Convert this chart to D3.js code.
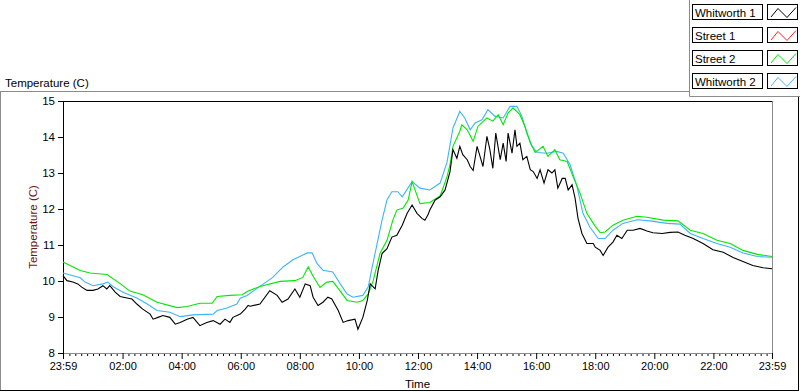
<!DOCTYPE html>
<html>
<head>
<meta charset="utf-8">
<script src="https://cdn.jsdelivr.net/npm/d3@7"></script>
<style>
  body { margin: 0; background: #fff; }
  svg { display: block; font-family: "Liberation Sans", Arial, sans-serif; }
</style>
</head>
<body>
<svg id="chart" width="800" height="392"></svg>
<script>
// readings, time of day -> temperature (C). first entry 23:59 is the evening before

var whitworth1 = [
  ["23:59",10.15],["00:07",10.01],["00:19",9.97],["00:29",9.92],["00:37",9.83],["00:48",9.74],
  ["01:00",9.74],["01:10",9.78],["01:20",9.87],["01:28",9.78],["01:34",9.87],["01:45",9.69],
  ["01:55",9.57],["02:09",9.53],["02:19",9.50],["02:29",9.36],["02:41",9.22],["02:56",9.08],
  ["03:02",8.94],["03:12",8.99],["03:22",9.04],["03:36",8.99],["03:47",8.80],["03:57",8.85],
  ["04:11",8.94],["04:23",8.99],["04:37",8.76],["04:51",8.85],["05:04",8.90],["05:18",8.80],
  ["05:28",8.94],["05:38",8.85],["05:44",8.99],["05:59",9.08],["06:09",9.22],["06:15",9.32],
  ["06:19",9.30],["06:39",9.36],["06:59",9.73],["07:14",9.60],["07:24",9.41],["07:36",9.50],
  ["07:50",9.78],["08:00",9.55],["08:11",9.92],["08:21",9.87],["08:27",9.55],["08:37",9.32],
  ["08:47",9.41],["08:57",9.55],["09:05",9.50],["09:18",9.18],["09:28",8.85],["09:38",8.90],
  ["09:52",8.94],["09:58",8.66],["10:08",8.99],["10:17",9.46],["10:23",9.92],["10:33",9.78],
  ["10:39",10.29],["10:47",10.76],["10:57",10.90],["11:07",11.22],["11:17",11.27],["11:28",11.55],
  ["11:38",11.88],["11:48",12.11],["11:58",11.88],["12:08",11.74],["12:14",11.69],["12:20",11.83],
  ["12:24",11.97],["12:35",12.25],["12:45",12.34],["12:55",12.53],["13:05",13.04],["13:11",13.65],
  ["13:19",13.41],["13:25",13.74],["13:31",13.51],["13:40",13.37],["13:46",13.18],["13:52",13.07],
  ["14:00",13.74],["14:06",13.46],["14:12",13.18],["14:20",14.02],["14:26",13.65],["14:32",13.13],
  ["14:38",14.11],["14:47",13.37],["14:53",13.83],["14:59",13.32],["15:03",14.11],["15:11",13.55],
  ["15:17",14.20],["15:21",13.74],["15:27",13.83],["15:33",13.37],["15:41",13.46],["15:48",13.09],
  ["15:54",13.04],["16:02",12.85],["16:08",13.09],["16:16",12.72],["16:24",13.09],["16:32",13.00],
  ["16:38",13.09],["16:44",12.58],["16:53",12.85],["16:59",12.85],["17:05",12.53],["17:13",12.67],
  ["17:19",12.30],["17:25",11.74],["17:33",11.32],["17:43",11.04],["17:56",11.04],["18:00",10.94],
  ["18:10",10.85],["18:16",10.71],["18:26",10.94],["18:36",11.08],["18:44",11.27],["18:54",11.18],
  ["19:05",11.41],["19:17",11.41],["19:31",11.46],["19:45",11.39],["19:57",11.34],["20:16",11.32],
  ["20:32",11.35],["20:48",11.36],["21:02",11.27],["21:19",11.18],["21:39",11.04],["21:59",10.87],
  ["22:20",10.80],["22:40",10.65],["23:00",10.54],["23:20",10.43],["23:41",10.37],["23:59",10.34]
];

var street1 = []; // no readings shown on the plot

var street2 = [
  ["23:59",10.53],["00:34",10.29],["00:54",10.22],["01:28",10.18],["01:51",9.97],["02:15",9.72],
  ["02:41",9.62],["03:10",9.41],["03:51",9.26],["04:11",9.29],["04:37",9.38],["05:02",9.38],
  ["05:12",9.57],["05:38",9.60],["06:03",9.62],["06:13",9.71],["06:39",9.85],["07:20",9.99],
  ["07:50",10.01],["08:06",10.10],["08:17",10.39],["08:27",10.13],["08:41",9.82],["08:55",9.97],
  ["09:07",9.99],["09:22",9.72],["09:36",9.46],["09:56",9.41],["10:08",9.46],["10:19",9.64],
  ["10:29",10.01],["10:43",10.77],["10:57",11.13],["11:09",11.69],["11:17",11.97],["11:30",12.03],
  ["11:40",12.25],["11:48",12.76],["12:04",12.15],["12:24",12.18],["12:45",12.36],["12:59",12.90],
  ["13:05",13.23],["13:11",13.74],["13:25",14.16],["13:29",14.34],["13:40",14.20],["13:52",13.88],
  ["14:02",14.30],["14:20",14.53],["14:32",14.44],["14:43",14.62],["14:53",14.34],["15:03",14.67],
  ["15:13",14.81],["15:27",14.62],["15:37",14.30],["15:48",13.84],["15:58",13.57],["16:14",13.74],
  ["16:24",13.46],["16:38",13.65],["16:48",13.37],["17:03",13.32],["17:15",12.90],["17:29",12.44],
  ["17:43",11.88],["17:56",11.60],["18:10",11.34],["18:20",11.36],["18:36",11.55],["18:56",11.69],
  ["19:25",11.80],["19:45",11.77],["20:18",11.69],["20:48",11.67],["21:13",11.41],["21:39",11.32],
  ["22:07",11.13],["22:34",11.04],["23:00",10.85],["23:29",10.74],["23:59",10.68]
];

var whitworth2 = [
  ["23:59",10.22],["00:34",10.09],["00:44",9.97],["01:00",9.87],["01:20",9.92],["01:30",9.97],
  ["01:41",9.84],["02:01",9.69],["02:29",9.53],["02:50",9.36],["03:10",9.18],["03:36",9.13],
  ["03:57",9.01],["04:23",9.06],["05:04",9.08],["05:12",9.18],["05:32",9.25],["05:52",9.36],
  ["05:59",9.52],["06:13",9.60],["06:39",9.85],["07:05",10.10],["07:26",10.39],["07:46",10.59],
  ["08:15",10.78],["08:25",10.78],["08:35",10.48],["08:47",10.30],["09:07",10.25],["09:22",9.92],
  ["09:36",9.64],["09:48",9.55],["10:08",9.60],["10:19",9.84],["10:27",10.39],["10:37",11.04],
  ["10:47",11.69],["10:57",12.25],["11:07",12.48],["11:19",12.48],["11:28",12.34],["11:48",12.76],
  ["12:04",12.58],["12:24",12.53],["12:45",12.72],["12:59",13.30],["13:11",14.25],["13:25",14.71],
  ["13:35",14.53],["13:46",14.20],["13:56",14.39],["14:10",14.48],["14:22",14.76],["14:36",14.58],
  ["14:53",14.53],["15:07",14.85],["15:21",14.85],["15:31",14.58],["15:41",14.11],["15:52",13.74],
  ["16:02",13.57],["16:22",13.55],["16:42",13.60],["16:55",13.55],["17:09",13.23],["17:23",12.62],
  ["17:35",11.88],["17:49",11.50],["18:06",11.18],["18:20",11.18],["18:36",11.41],["18:56",11.60],
  ["19:25",11.70],["19:51",11.67],["20:26",11.60],["20:52",11.58],["21:13",11.32],["21:39",11.18],
  ["22:07",11.04],["22:34",10.94],["23:00",10.78],["23:29",10.68],["23:59",10.66]
];

var seriesNames = ["Whitworth 1", "Street 1", "Street 2", "Whitworth 2"];
var seriesColors = ["#000000", "#ff2020", "#00e800", "#3fb4f4"];
var seriesData = [whitworth1, street1, street2, whitworth2];

var yTicks = [8, 9, 10, 11, 12, 13, 14, 15];
var xTickLabels = ["23:59", "02:00", "04:00", "06:00", "08:00", "10:00", "12:00",
                   "14:00", "16:00", "18:00", "20:00", "22:00", "23:59"];

var parseTime = d3.timeParse("%H:%M");
var fmt = d3.timeFormat("%H:%M");

function toDate(s, i) {
  var d = parseTime(s);
  if (i === 0) d.setDate(d.getDate() - 1); // starts the evening before
  return d;
}

var tStart = toDate("23:59", 0),
    tEnd = parseTime("23:59");

var svg = d3.select("#chart");
var plot = { left: 63, right: 772, top: 101, bottom: 353 };

var x = d3.scaleTime().domain([tStart, tEnd]).range([plot.left, plot.right]);
var y = d3.scaleLinear().domain([8, 15]).range([plot.bottom, plot.top]);

// outer frame
svg.append("path").attr("d", "M0,91.5H689.5M0.5,91V391").attr("stroke", "#8c8c8c").attr("fill", "none");
svg.append("path").attr("d", "M0,390.5H799M798.5,96V391").attr("stroke", "#000").attr("fill", "none");
svg.append("path").attr("d", "M689.5,0V96.5H800").attr("stroke", "#8c8c8c").attr("fill", "none");

// chart title
svg.append("text").attr("x", 5).attr("y", 87)
  .attr("font-size", "11.5px").attr("fill", "#000").text("Temperature (C)");

// plot borders (top black, right gray)
svg.append("path").attr("d", "M" + plot.left + "," + (plot.top + 0.5) + "H" + plot.right)
  .attr("stroke", "#000");
svg.append("path").attr("d", "M" + (plot.right + 0.5) + "," + plot.top + "V" + plot.bottom)
  .attr("stroke", "#8c8c8c");

// x axis, minor ticks every 12 minutes
var majorDates = xTickLabels.map(function(s, i) { return toDate(s, i); });
var minorDates = d3.timeMinute.every(12).range(tStart, tEnd).filter(function(d) {
  return d3.min(majorDates, function(m) { return Math.abs(m - d); }) > 3 * 60000;
});

svg.append("g")
  .attr("transform", "translate(0," + plot.bottom + ")")
  .call(d3.axisBottom(x).tickValues(minorDates).tickSize(3).tickSizeOuter(0).tickFormat(""))
  .call(function(g) { g.select(".domain").remove(); });

var xAxis = svg.append("g")
  .attr("transform", "translate(0," + plot.bottom + ")")
  .call(d3.axisBottom(x).tickValues(majorDates).tickSize(6).tickSizeOuter(0).tickPadding(3)
        .tickFormat(fmt));
xAxis.select(".domain").attr("stroke", "#8c8c8c");
xAxis.selectAll("text").attr("font-size", "11px").attr("fill", "#000").attr("font-family", null);

svg.append("text").attr("x", (plot.left + plot.right) / 2).attr("y", 388)
  .attr("text-anchor", "middle").attr("font-size", "11.5px").attr("fill", "#000").text("Time");

// y axis
var yAxis = svg.append("g")
  .attr("transform", "translate(" + plot.left + ",0)")
  .call(d3.axisLeft(y).tickValues(yTicks).tickSize(5).tickSizeOuter(0).tickPadding(3)
        .tickFormat(d3.format("d")));
yAxis.selectAll("text").attr("font-size", "11.5px").attr("fill", "#000").attr("font-family", null);

svg.append("text")
  .attr("transform", "translate(37," + ((plot.top + plot.bottom) / 2) + ") rotate(-90)")
  .attr("text-anchor", "middle").attr("font-size", "11.5px").attr("fill", "#6e1414")
  .text("Temperature (C)");

// lines, drawn last series first so black sits on top
var line = d3.line()
  .x(function(d, i) { return x(toDate(d[0], i)); })
  .y(function(d) { return y(d[1]); });

var order = [3, 2, 1, 0];
svg.append("g").selectAll("path")
  .data(order)
  .enter()
  .append("path")
    .attr("d", function(k) { return seriesData[k].length ? line(seriesData[k]) : null; })
    .attr("fill", "none")
    .attr("stroke", function(k) { return seriesColors[k]; })
    .attr("stroke-width", 1.1);

// legend
var legend = svg.selectAll(".legend")
  .data(seriesNames)
  .enter()
  .append("g")
    .classed("legend", true)
    .attr("transform", function(d, i) { return "translate(0," + (4 + i * 23) + ")"; });

legend.append("rect")
  .attr("x", 692.5).attr("y", 0.5).attr("width", 70).attr("height", 15)
  .attr("fill", "#fff").attr("stroke", "#000");
legend.append("text")
  .attr("x", 695).attr("y", 12.5)
  .attr("font-size", "11.5px").attr("fill", "#000")
  .text(function(d) { return d; });
legend.append("rect")
  .attr("x", 767.5).attr("y", 0.5).attr("width", 30).attr("height", 15)
  .attr("fill", "#fff").attr("stroke", "#000");
legend.append("path")
  .attr("d", "M771,13L778,4.5L787,13.5L796,3.5")
  .attr("fill", "none")
  .attr("stroke", function(d, i) { return seriesColors[i]; });
</script>
</body>
</html>
